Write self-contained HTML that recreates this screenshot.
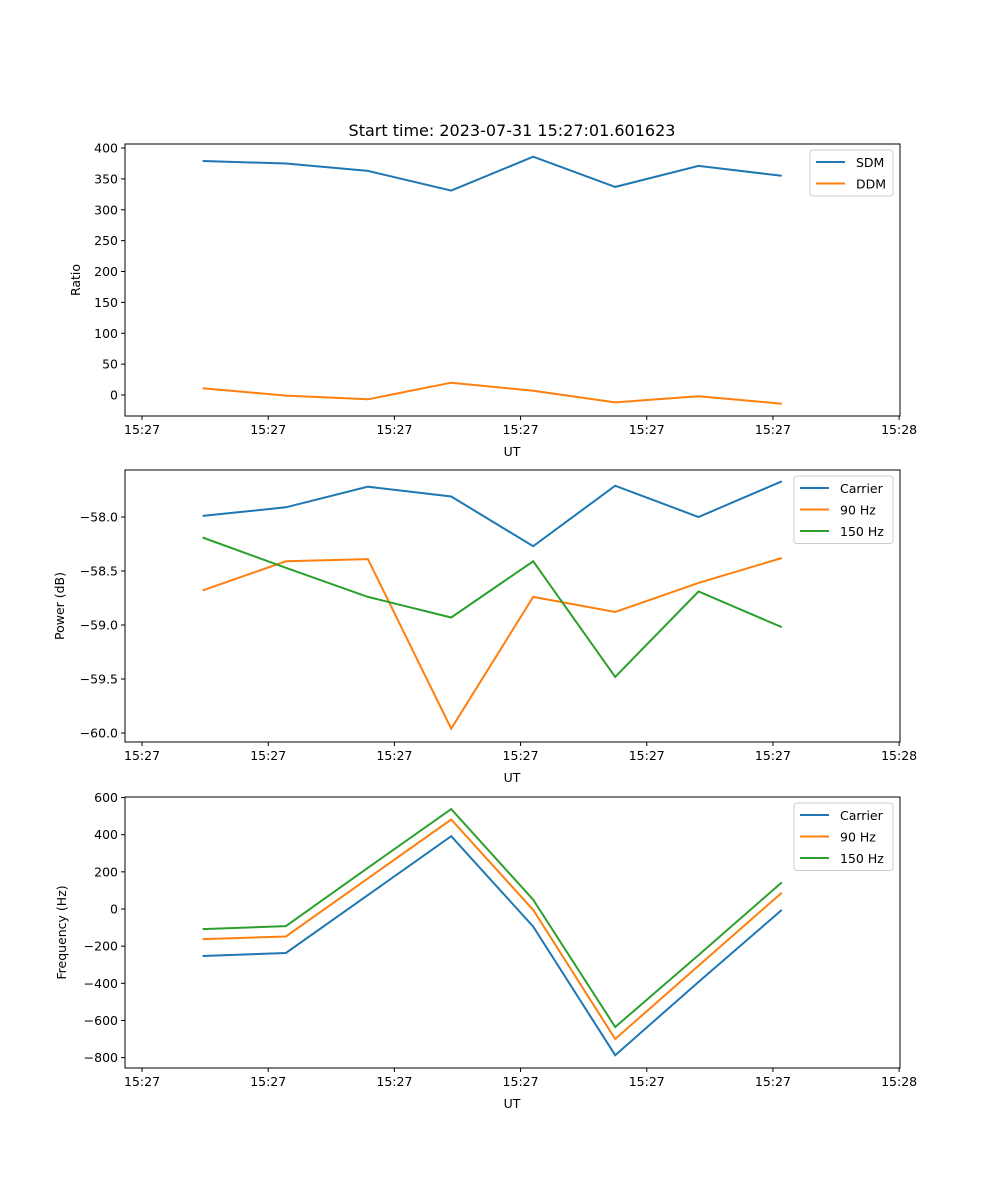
<!DOCTYPE html>
<html><head><meta charset="utf-8"><style>
body{margin:0;background:#fff}
svg{display:block;font-family:"DejaVu Sans","Liberation Sans",sans-serif}
</style></head><body>
<svg id="fig" width="1000" height="1200" viewBox="0 0 1000 1200">
<rect width="1000" height="1200" fill="#fff"/>
<text x="512" y="136" font-size="16" text-anchor="middle">Start time: 2023-07-31 15:27:01.601623</text>
</svg>
<script>
const times = [4.8, 11.4, 17.9, 24.5, 31.0, 37.5, 44.1, 50.7];
const xTickVals = [0, 10, 20, 30, 40, 50, 60];
const xTickLabels = ["15:27","15:27","15:27","15:27","15:27","15:27","15:28"];
const sdm = [379, 375, 363, 331, 386, 337, 371, 355];
const ddm = [11, -1, -7, 20, 7, -12, -2, -14];
const ratioTicks = [0, 50, 100, 150, 200, 250, 300, 350, 400];
const powCarrier = [-57.99, -57.91, -57.72, -57.81, -58.27, -57.71, -58.00, -57.67];
const pow90 = [-58.68, -58.41, -58.39, -59.96, -58.74, -58.88, -58.61, -58.38];
const pow150 = [-58.19, -58.47, -58.74, -58.93, -58.41, -59.48, -58.69, -59.02];
const powTicks = [-58.0, -58.5, -59.0, -59.5, -60.0];
const freqCarrier = [-253, -237, 75, 392, -95, -787, -393, -5];
const freq90 = [-162, -148, 165, 482, -5, -700, -305, 88];
const freq150 = [-108, -92, 222, 538, 50, -635, -248, 143];
const freqTicks = [600, 400, 200, 0, -200, -400, -600, -800];

const NS = "http://www.w3.org/2000/svg";
const svg = document.getElementById("fig");
function mk(tag, attrs, parent){const e=document.createElementNS(NS,tag);for(const k in attrs)e.setAttribute(k,attrs[k]);(parent||svg).appendChild(e);return e;}
const X0=125, X1=900, xmin=-1.35, xmax=60.07;
const xs = t => X0 + (t - xmin) / (xmax - xmin) * (X1 - X0);
const C = {blue:"#1f77b4", orange:"#ff7f0e", green:"#2ca02c"};
const FS = 12.5;

function panel(id, top, bot, ymin, ymax, ticks, fmt, ylabel, series, legend){
  const g = mk("g", {});
  
  
  const ys = v => bot - (v - ymin) / (ymax - ymin) * (bot - top);
  series.forEach(s=>{
    const p = mk("polyline", {points: s.vals.map((v,i)=>xs(times[i]).toFixed(1)+","+ys(v).toFixed(1)).join(" "), fill:"none", stroke:s.color, "stroke-width":2}, g);
    
    
  });
  const fr = mk("rect", {x:X0, y:top, width:X1-X0, height:bot-top, fill:"none", stroke:"#000", "stroke-width":1}, g);
  
  
  xTickVals.forEach((t,i)=>{
    const x = xs(t);
    mk("line",{x1:x,x2:x,y1:bot,y2:bot+4,stroke:"#000"},g);
    const tx = mk("text",{x:x,y:bot+18,"font-size":FS,"text-anchor":"middle"},g);
    tx.textContent = xTickLabels[i];
    
    
  });
  ticks.forEach(v=>{
    const y = ys(v);
    mk("line",{x1:X0-4,x2:X0,y1:y,y2:y,stroke:"#000"},g);
    const tx = mk("text",{x:X0-7,y:y+4.5,"font-size":FS,"text-anchor":"end"},g);
    tx.textContent = fmt(v);
    
    
  });
  const xl = mk("text",{x:512,y:bot+40,"font-size":FS,"text-anchor":"middle"},g);
  xl.textContent = "UT";
  
  
  const cy = (top+bot)/2;
  const yl = mk("text",{x:0,y:0,"font-size":FS,"text-anchor":"middle",transform:`translate(${legend.ylx},${cy}) rotate(-90)`},g);
  yl.textContent = ylabel;
  
  
  const lg = mk("g",{},g);
  
  
  mk("rect",{x:legend.x,y:top+6,width:893-legend.x,height:series.length*21.5+3,rx:3,fill:"#fff",stroke:"#ccc"},lg);
  series.forEach((s,i)=>{
    const y = top+18+i*21.5;
    mk("line",{x1:legend.x+6,x2:legend.x+35,y1:y,y2:y,stroke:s.color,"stroke-width":2},lg);
    const t = mk("text",{x:legend.x+46,y:y+5,"font-size":FS},lg);
    t.textContent = s.label;
    
    
  });
}
panel("ratio",144,416,-34,406.5,ratioTicks,v=>String(v),"Ratio",
  [{key:"sdm",label:"SDM",vals:sdm,color:C.blue},{key:"ddm",label:"DDM",vals:ddm,color:C.orange}],{x:810,ylx:80});
panel("power",470,742,-60.083,-57.565,powTicks,v=>"\u2212"+Math.abs(v).toFixed(1),"Power (dB)",
  [{key:"carrier",label:"Carrier",vals:powCarrier,color:C.blue},{key:"90hz",label:"90 Hz",vals:pow90,color:C.orange},{key:"150hz",label:"150 Hz",vals:pow150,color:C.green}],{x:794,ylx:64});
panel("frequency",797,1068,-856,603,freqTicks,v=>v<0?"\u2212"+Math.abs(v):String(v),"Frequency (Hz)",
  [{key:"carrier",label:"Carrier",vals:freqCarrier,color:C.blue},{key:"90hz",label:"90 Hz",vals:freq90,color:C.orange},{key:"150hz",label:"150 Hz",vals:freq150,color:C.green}],{x:794,ylx:66});
</script>
</body></html>
